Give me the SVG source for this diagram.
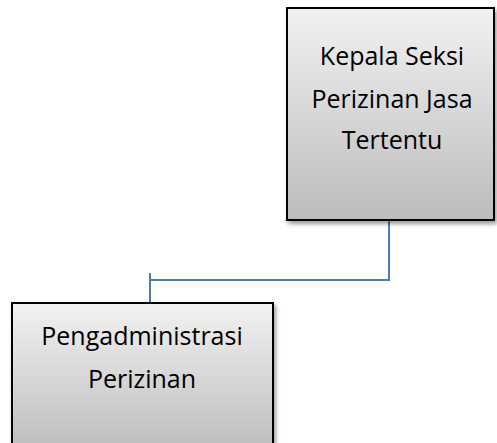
<svg xmlns="http://www.w3.org/2000/svg" width="497" height="443" viewBox="0 0 497 443">
<defs>
<linearGradient id="g" x1="0" y1="0" x2="0" y2="1">
<stop offset="0" stop-color="#f2f2f2"/>
<stop offset="1" stop-color="#bcbcbc"/>
</linearGradient>
<filter id="sh" x="-10%" y="-10%" width="130%" height="130%">
<feGaussianBlur in="SourceAlpha" stdDeviation="2"/>
<feOffset dx="2" dy="3" result="b"/>
<feComponentTransfer><feFuncA type="linear" slope="0.4"/></feComponentTransfer>
<feMerge><feMergeNode/><feMergeNode in="SourceGraphic"/></feMerge>
</filter>
</defs>
<style>
.box{fill:url(#g);stroke:#000;stroke-width:2;filter:url(#sh)}
.t{font-family:"Open Sans","Liberation Sans",sans-serif;font-size:25px;fill:#000;text-anchor:middle}
.c{fill:none;stroke:#4a7ebb;stroke-width:2}
</style>
<rect width="497" height="443" fill="#fff"/>
<g id="connectors">
<polyline class="c" points="389,220 389,280 150,280"/>
<line class="c" x1="150" y1="273" x2="150" y2="303"/>
</g>
<g id="kepala">
<rect class="box" x="287" y="8" width="207" height="212"/>
<text class="t" x="392" y="65">Kepala Seksi</text>
<text class="t" x="392" y="108">Perizinan Jasa</text>
<text class="t" x="392" y="149">Tertentu</text>
</g>
<g id="pengadministrasi">
<rect class="box" x="12" y="303" width="261" height="150"/>
<text class="t" x="142" y="345">Pengadministrasi</text>
<text class="t" x="142" y="388">Perizinan</text>
</g>
</svg>
